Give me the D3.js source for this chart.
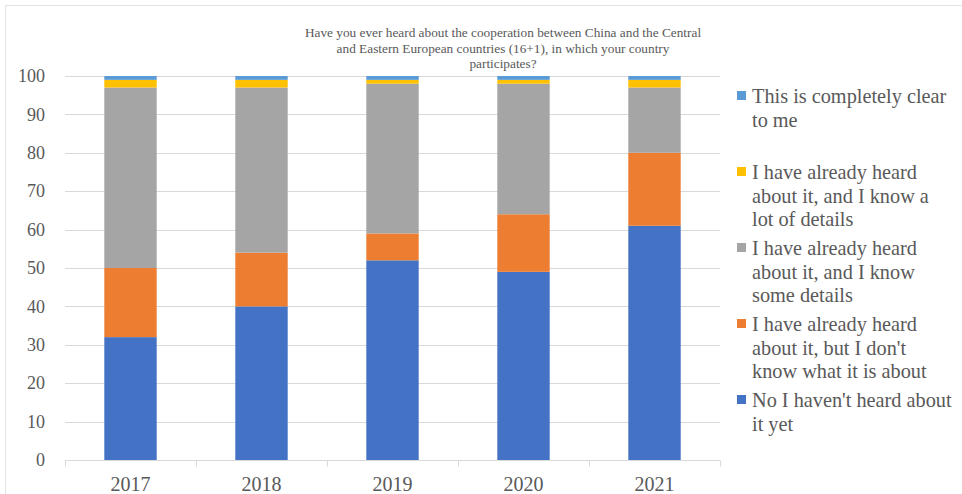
<!DOCTYPE html>
<html>
<head>
<meta charset="utf-8">
<script src="https://cdn.jsdelivr.net/npm/d3@7"></script>
<style>
  html, body { margin: 0; padding: 0; background: #fff; }
  svg { display: block; }
</style>
</head>
<body>
<svg id="chart" width="962" height="494"></svg>
<script>
// Survey years
const years = ["2017", "2018", "2019", "2020", "2021"];

// Share of answers (%) per year, bottom to top of each stack
const notHeard      = [32, 40, 52, 49, 61];
const heardNoIdea   = [18, 14, 7, 15, 19];
const someDetails   = [47, 43, 39, 34, 17];
const lotOfDetails  = [2, 2, 1, 1, 2];
const completelyClear = [1, 1, 1, 1, 1];

const yTicks = [0, 10, 20, 30, 40, 50, 60, 70, 80, 90, 100];

const titleLines = [
  "Have you ever heard about the cooperation between China and the Central",
  "and Eastern European countries (16+1), in which your country",
  "participates?"
];

// Series in stacking order (bottom first)
const seriesKeys = ["notHeard", "heardNoIdea", "someDetails", "lotOfDetails", "completelyClear"];
const seriesValues = [notHeard, heardNoIdea, someDetails, lotOfDetails, completelyClear];
const seriesColors = ["#4472C4", "#ED7D31", "#A5A5A5", "#FFC000", "#5B9BD5"];

// Legend entries, listed top to bottom
const legendEntries = [
  { key: "completelyClear", lines: ["This is completely clear", "to me"] },
  { key: "lotOfDetails", lines: ["I have already heard", "about it, and I know a", "lot of details"] },
  { key: "someDetails", lines: ["I have already heard", "about it, and I know", "some details"] },
  { key: "heardNoIdea", lines: ["I have already heard", "about it, but I don't", "know what it is about"] },
  { key: "notHeard", lines: ["No I haven't heard about", "it yet"] }
];

const rows = years.map((yr, i) => {
  const r = { year: yr };
  seriesKeys.forEach((k, j) => { r[k] = seriesValues[j][i]; });
  return r;
});

const svg = d3.select("#chart");
const font = "'Liberation Serif', 'Times New Roman', serif";
const textColor = "#595959";

// chart frame
svg.append("rect")
  .attr("x", 5.5).attr("y", 5.5)
  .attr("width", 1000).attr("height", 600)
  .attr("fill", "none").attr("stroke", "#e3e3e3").attr("stroke-width", 1);

const plot = { left: 65, right: 720, top: 76, bottom: 460 };

const x = d3.scaleBand()
  .domain(years)
  .range([plot.left, plot.right])
  .paddingInner(0.6)
  .paddingOuter(0.3);

const y = d3.scaleLinear()
  .domain([0, 100])
  .range([plot.bottom, plot.top]);

const color = d3.scaleOrdinal().domain(seriesKeys).range(seriesColors);

// gridlines
svg.append("g")
  .selectAll("line")
  .data(yTicks.filter(t => t > 0))
  .join("line")
  .attr("x1", plot.left).attr("x2", plot.right)
  .attr("y1", d => Math.round(y(d)) + 0.5).attr("y2", d => Math.round(y(d)) + 0.5)
  .attr("stroke", "#d9d9d9").attr("stroke-width", 1);

// y axis labels
const yAxis = d3.axisLeft(y).tickValues(yTicks).tickSize(0).tickPadding(20);
const gy = svg.append("g").attr("transform", `translate(${plot.left},0)`).call(yAxis);
gy.select(".domain").remove();
gy.selectAll("text")
  .attr("font-family", font).attr("font-size", 18).attr("fill", textColor);

// stacked bars
const stack = d3.stack().keys(seriesKeys);
const layers = stack(rows);

svg.append("g")
  .selectAll("g")
  .data(layers)
  .join("g")
  .attr("fill", d => color(d.key))
  .selectAll("rect")
  .data(d => d)
  .join("rect")
  .attr("x", d => x(d.data.year))
  .attr("width", x.bandwidth())
  .attr("y", d => y(d[1]))
  .attr("height", d => y(d[0]) - y(d[1]));

// x axis: baseline with category separators
const gx = svg.append("g").attr("transform", `translate(0,${plot.bottom + 0.5})`);
gx.append("line")
  .attr("x1", plot.left).attr("x2", plot.right)
  .attr("stroke", "#d9d9d9").attr("stroke-width", 1);
const step = x.step();
const bounds = d3.range(years.length + 1).map(i => plot.left + i * step);
gx.selectAll("line.sep")
  .data(bounds)
  .join("line")
  .attr("class", "sep")
  .attr("x1", d => Math.round(d) + 0.5).attr("x2", d => Math.round(d) + 0.5)
  .attr("y1", 0).attr("y2", 6)
  .attr("stroke", "#d9d9d9");
gx.selectAll("text")
  .data(years)
  .join("text")
  .attr("x", d => x(d) + x.bandwidth() / 2)
  .attr("y", 30)
  .attr("text-anchor", "middle")
  .attr("font-family", font).attr("font-size", 20).attr("fill", textColor)
  .text(d => d);

// title
svg.append("g")
  .selectAll("text")
  .data(titleLines)
  .join("text")
  .attr("x", 503)
  .attr("y", (d, i) => 37 + i * 15.5)
  .attr("text-anchor", "middle")
  .attr("font-family", font).attr("font-size", 13.3).attr("fill", textColor)
  .text(d => d);

// legend
const legend = svg.append("g");
legendEntries.forEach((e, i) => {
  const baseY = 103 + i * 76;
  legend.append("rect")
    .attr("x", 737).attr("y", baseY - 12)
    .attr("width", 9).attr("height", 9)
    .attr("fill", color(e.key));
  e.lines.forEach((ln, j) => {
    legend.append("text")
      .attr("x", 752).attr("y", baseY + j * 23.5)
      .attr("font-family", font).attr("font-size", 20.3).attr("fill", textColor)
      .text(ln);
  });
});
</script>
</body>
</html>
